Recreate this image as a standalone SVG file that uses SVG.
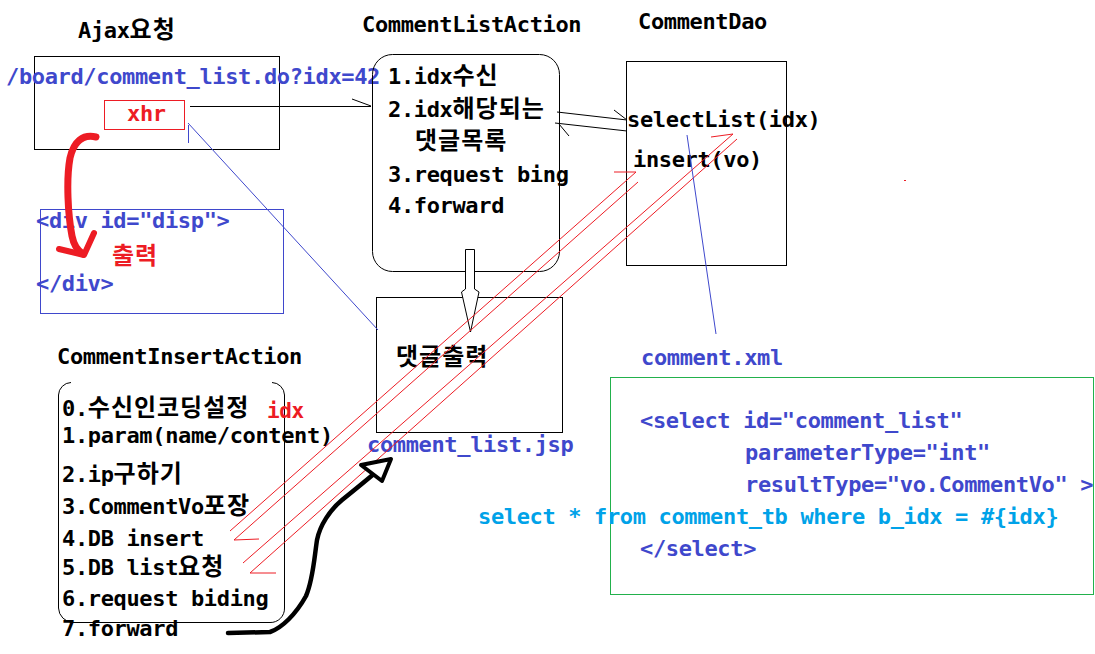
<svg xmlns="http://www.w3.org/2000/svg" width="1095" height="654" viewBox="0 0 1095 654">
<style>
text{font-family:"DejaVu Sans Mono","Noto Sans CJK KR",monospace;font-size:22px;font-weight:bold;letter-spacing:-0.35px;fill:#000}
.k{font-size:24px;letter-spacing:1px}
.b{fill:#3f48cc}
.r{fill:#ed1c24}
.s{fill:#00a2e8}
.box{fill:none;stroke:#000;stroke-width:1}
.ln{fill:none;stroke:#000;stroke-width:1}
.bl{fill:none;stroke:#3f48cc;stroke-width:1}
.rl{fill:none;stroke:#ed1c24;stroke-width:1}
</style>
<rect width="1095" height="654" fill="#fff"/>

<g id="ajax">
<text x="78" y="38">Ajax<tspan class="k">요청</tspan></text>
<rect class="box" x="34.5" y="56.5" width="245" height="93"/>
<text class="b" x="6" y="84">/board/comment_list.do?idx=42</text>
<rect x="104.5" y="100.5" width="80" height="29" fill="none" stroke="#ed1c24"/>
<text class="r" x="127" y="121">xhr</text>
</g>

<g id="disp">
<rect x="40.5" y="209.5" width="243" height="104" fill="none" stroke="#3f48cc"/>
<text class="b" x="36" y="228">&lt;div id="disp"&gt;</text>
<text class="r" x="112" y="264"><tspan class="k">출력</tspan></text>
<text class="b" x="36" y="291">&lt;/div&gt;</text>
</g>

<g id="commentListAction">
<text x="362" y="32">CommentListAction</text>
<rect class="box" x="372.5" y="54.5" width="187" height="217" rx="20"/>
<text x="388" y="84">1.idx<tspan class="k">수신</tspan></text>
<text x="388" y="117">2.idx<tspan class="k">해당되는</tspan></text>
<text x="415" y="149"><tspan class="k">댓글목록</tspan></text>
<text x="388" y="182">3.request bing</text>
<text x="388" y="213">4.forward</text>
</g>

<g id="commentDao">
<text x="638" y="29">CommentDao</text>
<rect class="box" x="626.5" y="61.5" width="160" height="204"/>
<text x="627" y="127">selectList(idx)</text>
<text x="633" y="167">insert(vo)</text>
</g>

<g id="commentListJsp">
<rect class="box" x="376.5" y="297.5" width="186" height="135"/>
<text x="396" y="365"><tspan class="k">댓글출력</tspan></text>
<text class="b" x="367" y="452">comment_list.jsp</text>
</g>

<g id="commentInsertAction">
<text x="57" y="364">CommentInsertAction</text>
<path class="box" d="M71,382.5 A13,13 0 0 0 58.5,395 L58.5,608 A15,15 0 0 0 73,622.5 L270,622.5 A14,14 0 0 0 284.5,608 L284.5,395 A13,13 0 0 0 272,382.5"/>
<text x="62" y="416">0.<tspan class="k">수신인코딩설정</tspan></text>
<text class="r" x="267" y="418" style="font-size:21px">idx</text>
<text x="62" y="443">1.param(name/content)</text>
<text x="62" y="482">2.ip<tspan class="k">구하기</tspan></text>
<text x="62" y="514">3.CommentVo<tspan class="k">포장</tspan></text>
<text x="62" y="546">4.DB insert</text>
<text x="62" y="575">5.DB list<tspan class="k">요청</tspan></text>
<text x="62" y="606">6.request biding</text>
<text x="62" y="636">7.forward</text>
</g>

<g id="commentXml">
<text class="b" x="641" y="365">comment.xml</text>
<rect x="610.5" y="377.5" width="483" height="217" fill="none" stroke="#22b14c"/>
<text class="b" x="640" y="428">&lt;select id="comment_list"</text>
<text class="b" x="745" y="460">parameterType="int"</text>
<text class="b" x="745" y="492">resultType="vo.CommentVo" &gt;</text>
<text class="s" x="478" y="524">select * from comment_tb where b_idx = #{idx}</text>
<text class="b" x="640" y="556">&lt;/select&gt;</text>
</g>

<g id="connectors">
<path class="ln" d="M190,106.5 L371,106.5 M352,99 L371,106"/>
<path class="bl" d="M188,123 L378,330 M188.5,125 L188.5,143"/>
<path class="ln" d="M557,112 L627,120 M614,110 L627,120"/>
<path class="ln" d="M627,131 L555,123 M559,124 L569,136"/>
<polygon points="465.5,249.5 474.5,249.5 474.5,289 479,292 470.5,332 461.5,292 465.5,289" fill="#fff" stroke="#000" stroke-width="1"/>
<path class="rl" d="M230,531 L636,172 M614,172 L636,172"/>
<path class="rl" d="M234,540 L638,182 M234,540 L259,539"/>
<path class="rl" d="M243,563 L733,134 M711,137 L733,134"/>
<path class="rl" d="M250,573 L737,139 M250,573 L276,573"/>
<path class="bl" d="M687,135 L716,334"/>
<path d="M96,137 C83,134 74,141 70,158 C66,180 68,215 72,236 C74,246 78,251 83,254" fill="none" stroke="#ed1c24" stroke-width="7" stroke-linecap="round" stroke-linejoin="round"/>
<path d="M59,249 L84,255 L94,233" fill="none" stroke="#ed1c24" stroke-width="6" stroke-linecap="round" stroke-linejoin="round"/>
<path d="M228,633 L270,632 C282,628 296,614 306,596 C313,580 314,560 317,540 C320,525 330,510 342,500 C352,492 363,483 375,473" fill="none" stroke="#000" stroke-width="4.5" stroke-linecap="round" stroke-linejoin="round"/>
<polygon points="361,465 391,459 382,481" fill="#fff" stroke="#000" stroke-width="4" stroke-linejoin="round"/>
<rect x="904" y="180" width="2" height="1" fill="#ed1c24"/>
</g>
</svg>
